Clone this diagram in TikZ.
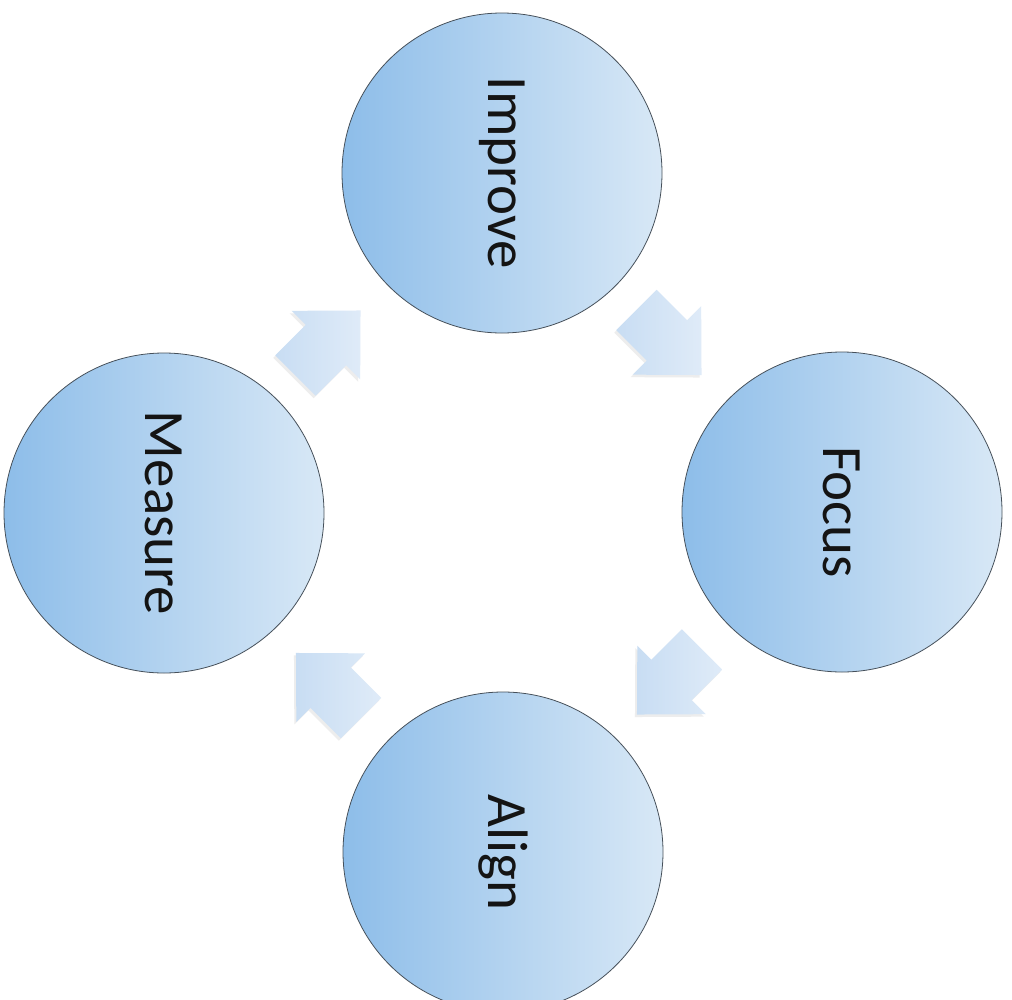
\documentclass[tikz,border=0pt]{standalone}
\usepackage{fontspec}
\setmainfont{Carlito}
\usetikzlibrary{calc,shadows}
\definecolor{cdark}{HTML}{8DBDE9}
\definecolor{cmid}{HTML}{B3D3F0}
\definecolor{clight}{HTML}{D8E8F6}
\definecolor{adark}{HTML}{C8DDF3}
\definecolor{alight}{HTML}{DFEBF8}
\definecolor{rim}{HTML}{46505A}
\begin{document}
\begin{tikzpicture}[x=1pt,y=-1pt,
  stage/.style={circle, minimum size=320pt, inner sep=0pt, draw=rim, line width=0.8pt, left color=cdark, middle color=cmid, right color=clight},
  stagetext/.style={rotate=-90, font=\fontsize{57}{68}\selectfont, text=black!92, inner sep=0pt},
  flowarrow/.style={left color=adark, right color=alight, draw=none,
    drop shadow={opacity=0.14, shadow xshift=-2pt, shadow yshift=-2.5pt}},
  blockarrow/.pic={\path[flowarrow] (-46,-28.5) -- (-3,-28.5) -- (-3,-48.5) -- (46,0) -- (-3,48.5) -- (-3,28.5) -- (-46,28.5) -- cycle;}
]
\fill[white] (0,0) rectangle (1012,999);
\useasboundingbox (0,0) rectangle (1012,999);
\node[stage] (improve) at (502,173) {};
\node[stage] (focus)   at (842,512) {};
\node[stage] (align)   at (503,852) {};
\node[stage] (measure) at (164,513) {};
\node[stagetext] (improvet) at (improve.center) {Improve};
\node[stagetext] (focust)   at (focus.center)   {Focus};
\node[stagetext] (alignt)   at (align.center)   {Align};
\node[stagetext] (measuret) at (measure.center) {Measure};
\coordinate (a1) at ($(measure)!0.5!(improve)+(-5,0)$);
\coordinate (a2) at ($(improve)!0.5!(focus)+(-3,0)$);
\coordinate (a3) at ($(focus)!0.5!(align)+(-3,0)$);
\coordinate (a4) at ($(align)!0.5!(measure)+(-5,3)$);
\pic[rotate=45]   at (a1) {blockarrow};
\pic[rotate=-45]  at (a2) {blockarrow};
\pic[rotate=-135] at (a3) {blockarrow};
\pic[rotate=135]  at (a4) {blockarrow};
\end{tikzpicture}
\end{document}
